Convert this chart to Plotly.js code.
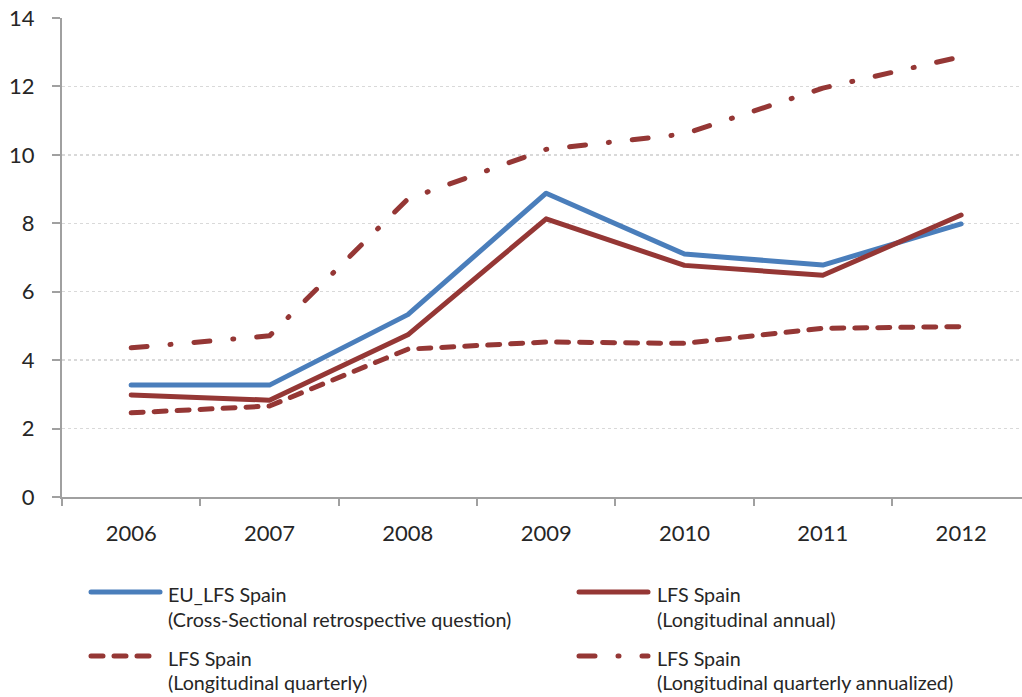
<!DOCTYPE html>
<html>
<head>
<meta charset="utf-8">
<script src="https://cdn.plot.ly/plotly-3.0.1.min.js"></script>
<style>
html,body{margin:0;padding:0;background:#fff;}
#chart{width:1022px;height:697px;}
.scatterlayer path.js-line, .shapelayer path{stroke-linecap:round !important;stroke-linejoin:round !important;}
</style>
</head>
<body>
<div id="chart"></div>
<script>
const years = ['2006','2007','2008','2009','2010','2011','2012'];
const euLfs = [3.27, 3.27, 5.33, 8.88, 7.10, 6.78, 7.98];
const lfsAnnual = [2.98, 2.83, 4.74, 8.13, 6.77, 6.48, 8.24];
const lfsQuarterly = [2.46, 2.66, 4.32, 4.53, 4.49, 4.93, 4.98];
const lfsAnnualized = [4.36, 4.71, 8.71, 10.16, 10.61, 11.95, 12.87];
const yTicks = [0, 2, 4, 6, 8, 10, 12, 14];

const seriesNames = [
  ['EU_LFS Spain', '(Cross-Sectional retrospective question)'],
  ['LFS Spain', '(Longitudinal annual)'],
  ['LFS Spain', '(Longitudinal quarterly)'],
  ['LFS Spain', '(Longitudinal quarterly annualized)']
];

const BLUE = '#4A7EBB', RED = '#953735';
const DASH = '12px,11px';
const DASHDOT = '16px,23px,1px,23px';
const LW = 5;
const FONT = 'Lato, "Open Sans", sans-serif';

const styles = [
  {color: BLUE, dash: 'solid'},
  {color: RED, dash: 'solid'},
  {color: RED, dash: DASH},
  {color: RED, dash: DASHDOT}
];
const allSeries = [euLfs, lfsAnnual, lfsQuarterly, lfsAnnualized];

const traces = allSeries.map((vals, i) => ({
  type: 'scatter', mode: 'lines', x: years, y: vals,
  name: seriesNames[i].join(' '),
  line: {color: styles[i].color, width: LW, dash: styles[i].dash},
  showlegend: false, hoverinfo: 'skip'
}));

// pixel -> paper helpers for custom legend
const L = 62, T = 18, W = 960, H = 479;
const px = v => (v - L) / W;
const py = v => (T + H - v) / H;

const legendPos = [
  {x0: 91, x1: 160, y: 592, tx: 166, ty: [594, 619]},
  {x0: 579, x1: 648, y: 592, tx: 655, ty: [594, 619]},
  {x0: 91, x1: 160, y: 656, tx: 166, ty: [658, 682]},
  {x0: 579, x1: 648, y: 656, tx: 655, ty: [658, 682]}
];
const shapes = [], annotations = [];
[0, 1, 2, 3].forEach((s, k) => {
  const p = legendPos[k];
  shapes.push({type: 'line', xref: 'paper', yref: 'paper',
    x0: px(p.x0), x1: px(p.x1), y0: py(p.y), y1: py(p.y),
    line: {color: styles[s].color, width: LW, dash: styles[s].dash}});
  seriesNames[s].forEach((t, j) => {
    annotations.push({xref: 'paper', yref: 'paper', x: px(p.tx), y: py(p.ty[j]),
      xanchor: 'left', yanchor: 'middle', showarrow: false, text: t,
      font: {family: FONT, size: 19.7, color: '#262626'}});
  });
});

const layout = {
  width: 1022, height: 697,
  margin: {l: L, r: 0, t: T, b: 697 - T - H, pad: 0},
  paper_bgcolor: '#fff', plot_bgcolor: '#fff',
  font: {family: FONT, color: '#262626'},
  showlegend: false,
  xaxis: {
    type: 'category', range: [-0.5, 6.44], tickson: 'boundaries',
    showline: true, linecolor: '#a0a0a0', linewidth: 2,
    ticks: 'outside', ticklen: 7, tickcolor: '#a0a0a0', tickwidth: 2,
    showgrid: false, zeroline: false,
    tickfont: {size: 22, color: '#262626'}, ticklabelstandoff: 16,
    fixedrange: true
  },
  yaxis: {
    range: [0, 14], tickvals: yTicks, ticktext: yTicks.map(String),
    showline: true, linecolor: '#a0a0a0', linewidth: 2,
    ticks: 'outside', ticklen: 8, tickcolor: '#a0a0a0', tickwidth: 2,
    showgrid: true, gridcolor: '#d9d9d9', gridwidth: 1.5, griddash: 'dot',
    zeroline: false,
    tickfont: {size: 22, color: '#262626'}, ticklabelstandoff: 13,
    fixedrange: true
  },
  shapes: shapes,
  annotations: annotations
};

Plotly.newPlot('chart', traces, layout, {displayModeBar: false, staticPlot: true});
</script>
</body>
</html>
